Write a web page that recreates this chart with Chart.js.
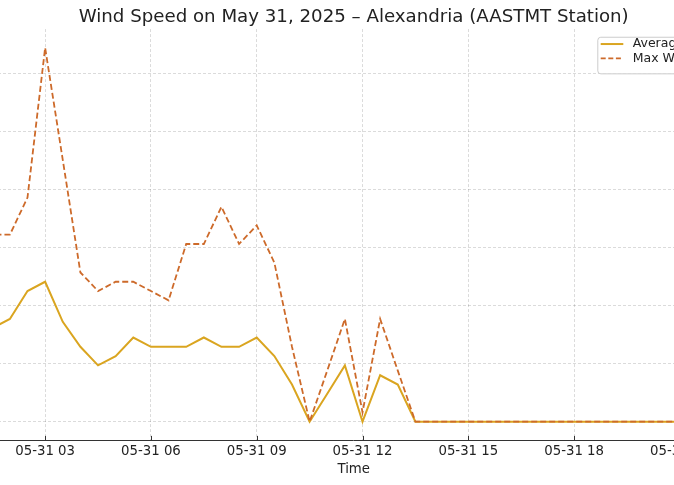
<!DOCTYPE html>
<html>
<head>
<meta charset="utf-8">
<script src="https://cdn.jsdelivr.net/npm/chart.js@4"></script>
<style>
html,body{margin:0;padding:0;width:674px;height:485px;overflow:hidden;background:#ffffff}
#wrap{position:absolute;left:-150px;top:0;width:1000px;height:485px}
canvas{display:block}
</style>
</head>
<body>
<div id="wrap"><canvas id="c" width="1000" height="485"></canvas></div>
<script>
// ---- data (km/h, 30-minute readings, May 31, 2025) ----
const titleText = 'Wind Speed on May 31, 2025 – Alexandria (AASTMT Station)';
const xAxisTitle = 'Time';
const seriesNames = ['Average Wind Speed', 'Max Wind Speed'];
const datePrefix = '05-31';
const nextDatePrefix = '06-01';
const times = ['00:00','00:30','01:00','01:30','02:00','02:30','03:00','03:30',
  '04:00','04:30','05:00','05:30','06:00','06:30','07:00','07:30',
  '08:00','08:30','09:00','09:30','10:00','10:30','11:00','11:30',
  '12:00','12:30','13:00','13:30','14:00','14:30','15:00','15:30',
  '16:00','16:30','17:00','17:30','18:00','18:30','19:00','19:30',
  '20:00','20:30','21:00','21:30','22:00','22:30','23:00','23:30'];
const avgSpeed = [14.5,16.1,16.1,16.1,17.7,22.5,24.1,17.2,
  12.9,9.7,11.3,14.5,12.9,12.9,12.9,14.5,
  12.9,12.9,14.5,11.3,6.4,0,4.8,9.7,
  0,8.0,6.4,0,0,0,0,0,
  0,0,0,0,0,0,0,0,
  0,0,0,0,0,0,0,0];
const maxSpeed = [30.6,32.2,30.6,32.2,32.2,38.6,64.4,45.1,
  25.7,22.5,24.1,24.1,22.5,20.9,30.6,30.6,
  37.0,30.6,33.8,27.4,12.9,0,8.8,17.7,
  1.6,17.7,8.8,0,0,0,0,0,
  0,0,0,0,0,0,0,0,
  0,0,0,0,0,0,0,0];
const xTickHours = [0,3,6,9,12,15,18,21,24];
const yTickValues = [0,10,20,30,40,50,60];

// ---- helpers ----
const toHours = t => { const [h,m] = t.split(':').map(Number); return h + m/60; };
const pad2 = n => String(n).padStart(2,'0');
const hrs = times.map(toHours);
const xSpan = hrs[hrs.length-1] - hrs[0];
const xMin = hrs[0] - 0.05*xSpan, xMax = hrs[hrs.length-1] + 0.05*xSpan;
const yTop = Math.max(...maxSpeed, ...avgSpeed);
const yMin = -0.05*yTop, yMax = yTop*1.05;

const FONT = 'DejaVu Sans';
const TEXT = '#222222';
const AVG_COLOR = '#DAA520';
const MAX_COLOR = '#CD6A2A';

const inwardTicks = {
  id: 'inwardTicks',
  afterDatasetsDraw(chart) {
    const s = chart.scales.x, ctx = chart.ctx, b = chart.chartArea.bottom;
    ctx.save();
    ctx.strokeStyle = '#333333';
    ctx.lineWidth = 1;
    s.ticks.forEach(t => {
      const px = Math.round(s.getPixelForValue(t.value)) + 0.5;
      ctx.beginPath(); ctx.moveTo(px, b); ctx.lineTo(px, b - 4.5); ctx.stroke();
    });
    ctx.restore();
  }
};

const boxLegend = {
  id: 'boxLegend',
  afterDraw(chart) {
    const ctx = chart.ctx, a = chart.chartArea;
    const right = a.right - 5.5, w = 206.7, left = right - w;
    const top = a.top + 7.7, h = 36.6;
    ctx.save();
    ctx.beginPath();
    ctx.roundRect(left + 0.5, top + 0.5, w, h, 3);
    ctx.fillStyle = 'rgba(255,255,255,0.85)';
    ctx.fill();
    ctx.strokeStyle = '#cccccc';
    ctx.lineWidth = 1;
    ctx.stroke();
    const rows = [top + 7.3, top + 21.6];
    const styles = [
      {c: AVG_COLOR, w: 2, d: []},
      {c: MAX_COLOR, w: 1.8, d: [5, 2.6]}
    ];
    rows.forEach((y, i) => {
      ctx.beginPath();
      ctx.setLineDash(styles[i].d);
      ctx.strokeStyle = styles[i].c;
      ctx.lineWidth = styles[i].w;
      ctx.moveTo(left + 3.4, y); ctx.lineTo(left + 26, y);
      ctx.stroke();
      ctx.setLineDash([]);
      ctx.fillStyle = TEXT;
      ctx.font = '12.5px "' + FONT + '"';
      ctx.textBaseline = 'middle';
      ctx.textAlign = 'left';
      ctx.fillText(seriesNames[i], left + 35.4, y);
    });
    ctx.restore();
  }
};

new Chart(document.getElementById('c'), {
  type: 'line',
  data: {
    datasets: [
      {
        label: seriesNames[0],
        data: hrs.map((x, i) => ({x, y: avgSpeed[i]})),
        borderColor: AVG_COLOR, backgroundColor: AVG_COLOR,
        borderWidth: 2, pointRadius: 0, tension: 0, fill: false, order: 1
      },
      {
        label: seriesNames[1],
        data: hrs.map((x, i) => ({x, y: maxSpeed[i]})),
        borderColor: MAX_COLOR, backgroundColor: MAX_COLOR,
        borderWidth: 1.8, borderDash: [6, 3], pointRadius: 0, tension: 0, fill: false, order: 0
      }
    ]
  },
  options: {
    responsive: false,
    animation: false,
    devicePixelRatio: 1,
    layout: { padding: { left: 47.9, right: 40.5, top: 0, bottom: 0 }, autoPadding: false },
    plugins: {
      legend: { display: false },
      tooltip: { enabled: false },
      title: {
        display: true, text: titleText, color: TEXT,
        font: { family: FONT, size: 18.2, weight: 'normal', lineHeight: 1.2 },
        padding: { top: 6.1, bottom: 1.1 }
      }
    },
    scales: {
      x: {
        type: 'linear', min: xMin, max: xMax,
        afterBuildTicks: s => { s.ticks = xTickHours.map(v => ({value: v})); },
        afterFit: s => { s.height = 44.6; },
        ticks: {
          color: TEXT, padding: 3, maxRotation: 0, autoSkip: false,
          font: { family: FONT, size: 13.3, lineHeight: 1.2 },
          callback: v => (v >= 24 ? nextDatePrefix : datePrefix) + ' ' + pad2(v % 24)
        },
        grid: { color: 'rgba(0,0,0,0.14)', lineWidth: 1, drawTicks: false },
        border: { display: true, color: '#333333', width: 1, dash: [3, 2] },
        title: {
          display: true, text: xAxisTitle, color: TEXT,
          font: { family: FONT, size: 13.3, lineHeight: 1.2 },
          padding: { top: 0, bottom: 7.6 }
        }
      },
      y: {
        type: 'linear', min: yMin, max: yMax,
        afterBuildTicks: s => { s.ticks = yTickValues.map(v => ({value: v})); },
        afterFit: s => { s.width = 0; },
        ticks: { display: false },
        grid: { color: 'rgba(0,0,0,0.14)', lineWidth: 1, drawTicks: false },
        border: { display: false, dash: [3, 2] }
      }
    }
  },
  plugins: [inwardTicks, boxLegend]
});
</script>
</body>
</html>
